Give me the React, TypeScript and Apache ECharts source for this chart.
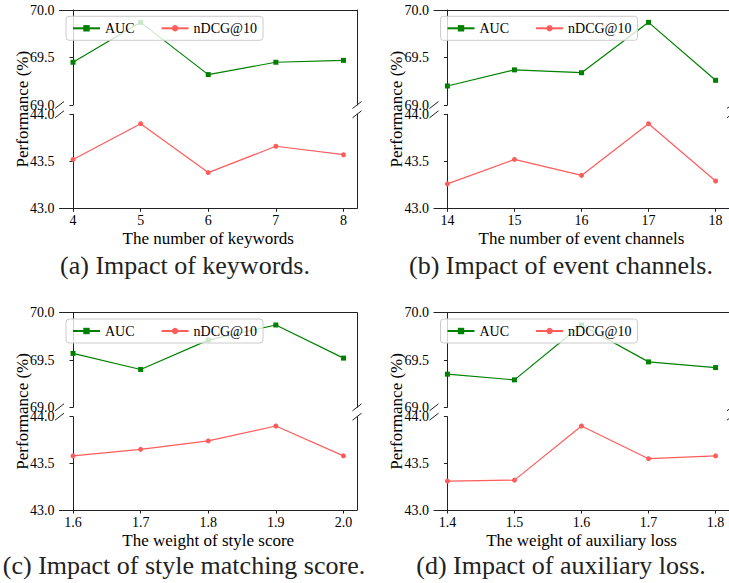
import React, { useEffect, useRef } from "react";
import * as echarts from "echarts";

const FONT = "'Liberation Serif', 'Times New Roman', serif";

const keywordCats = ["4", "5", "6", "7", "8"];
const keywordAUC = [69.45, 69.87, 69.32, 69.45, 69.47];
const keywordNDCG = [43.52, 43.9, 43.38, 43.66, 43.57];

const channelCats = ["14", "15", "16", "17", "18"];
const channelAUC = [69.2, 69.37, 69.34, 69.87, 69.26];
const channelNDCG = [43.26, 43.52, 43.35, 43.9, 43.29];

const styleCats = ["1.6", "1.7", "1.8", "1.9", "2.0"];
const styleAUC = [69.57, 69.4, 69.71, 69.87, 69.52];
const styleNDCG = [43.58, 43.65, 43.74, 43.9, 43.58];

const auxCats = ["1.4", "1.5", "1.6", "1.7", "1.8"];
const auxAUC = [69.35, 69.29, 69.87, 69.48, 69.42];
const auxNDCG = [43.31, 43.32, 43.9, 43.55, 43.58];

const aucRange = [69.0, 70.0];
const ndcgRange = [43.0, 44.0];
const yInterval = 0.5;

const xNames = [
  "The number of keywords",
  "The number of event channels",
  "The weight of style score",
  "The weight of auxiliary loss",
];
const captions = [
  "(a) Impact of keywords.",
  "(b) Impact of event channels.",
  "(c) Impact of style matching score.",
  "(d) Impact of auxiliary loss.",
];
const cats = [keywordCats, channelCats, styleCats, auxCats];
const aucs = [keywordAUC, channelAUC, styleAUC, auxAUC];
const ndcgs = [keywordNDCG, channelNDCG, styleNDCG, auxNDCG];

// layout (pixels)
const layout = [
  { left: 59.5, tTop: 10, tH: 95, bTop: 114.3, bH: 94, capX: 185, capY: 265 },
  { left: 434, tTop: 10, tH: 95, bTop: 114.3, bH: 94, capX: 561, capY: 265 },
  { left: 59.5, tTop: 312.7, tH: 94.6, bTop: 416.7, bH: 93.3, capX: 184, capY: 565 },
  { left: 434, tTop: 312.7, tH: 94.6, bTop: 416.7, bH: 93.3, capX: 561, capY: 565 },
];
const W = 297.5;

const GREEN = "#008000";
const RED = "#ff5c5c";
const AXIS = "#222";

export default function App() {
  const ref = useRef<HTMLDivElement>(null);
  useEffect(() => {
    if (!ref.current) return;
    const chart = echarts.init(ref.current, null, { renderer: "svg" });
    const grid: any[] = [];
    const xAxis: any[] = [];
    const yAxis: any[] = [];
    const series: any[] = [];
    const legend: any[] = [];
    const graphic: any[] = [];
    const idx = [0, 1, 2, 3, 4];

    layout.forEach((p, k) => {
      grid.push({ left: p.left, top: p.tTop, width: W, height: p.tH });
      grid.push({ left: p.left, top: p.bTop, width: W, height: p.bH });
      const c = cats[k];
      xAxis.push({
        gridIndex: 2 * k,
        type: "value",
        min: -0.2,
        max: 4.2,
        position: "top",
        axisLine: { show: true, onZero: false, lineStyle: { color: AXIS, width: 1 } },
        axisTick: { show: false },
        axisLabel: { show: false },
        splitLine: { show: false },
      });
      xAxis.push({
        gridIndex: 2 * k + 1,
        type: "value",
        min: -0.2,
        max: 4.2,
        position: "bottom",
        axisLine: { show: true, onZero: false, lineStyle: { color: AXIS, width: 1 } },
        axisTick: { show: true, length: 3.5, customValues: idx, lineStyle: { color: AXIS } },
        axisLabel: {
          customValues: idx,
          formatter: (v: number) => c[Math.round(v)],
          fontFamily: FONT,
          fontSize: 14,
          color: "#000",
          margin: 5,
        },
        splitLine: { show: false },
        name: xNames[k],
        nameLocation: "middle",
        nameGap: 22,
        nameMoveOverlap: false,
        nameTextStyle: { fontFamily: FONT, fontSize: 17, color: "#000" },
      });
      const mkLeft = (grid: number, r: number[]) => ({
        gridIndex: grid,
        type: "value",
        min: r[0],
        max: r[1],
        interval: yInterval,
        position: "left",
        axisLine: { show: true, lineStyle: { color: AXIS, width: 1 } },
        axisTick: { show: true, length: 3.5, lineStyle: { color: AXIS } },
        axisLabel: {
          formatter: (v: number) => v.toFixed(1),
          fontFamily: FONT,
          fontSize: 14,
          color: "#000",
          margin: 5,
        },
        splitLine: { show: false },
      });
      const mkRight = (grid: number, r: number[]) => ({
        gridIndex: grid,
        type: "value",
        min: r[0],
        max: r[1],
        interval: yInterval,
        position: "right",
        axisLine: { show: true, lineStyle: { color: AXIS, width: 1 } },
        axisTick: { show: false },
        axisLabel: { show: false },
        splitLine: { show: false },
      });
      yAxis.push(mkLeft(2 * k, aucRange));
      yAxis.push(mkRight(2 * k, aucRange));
      yAxis.push(mkLeft(2 * k + 1, ndcgRange));
      yAxis.push(mkRight(2 * k + 1, ndcgRange));

      series.push({
        name: "AUC",
        type: "line",
        xAxisIndex: 2 * k,
        yAxisIndex: 4 * k,
        data: aucs[k].map((v, i) => [i, v]),
        symbol: "rect",
        symbolSize: 5,
        itemStyle: { color: GREEN },
        lineStyle: { color: GREEN, width: 1.2 },
        z: 2,
      });
      series.push({
        name: "nDCG@10",
        type: "line",
        xAxisIndex: 2 * k + 1,
        yAxisIndex: 4 * k + 2,
        data: ndcgs[k].map((v, i) => [i, v]),
        symbol: "circle",
        symbolSize: 5,
        itemStyle: { color: RED },
        lineStyle: { color: RED, width: 1.2 },
        z: 2,
      });
      legend.push({
        data: ["AUC", "nDCG@10"],
        left: p.left + 6.5,
        top: p.tTop + 6.3,
        orient: "horizontal",
        padding: [5, 6],
        itemWidth: 27,
        itemHeight: 8,
        itemGap: 26,
        backgroundColor: "rgba(255,255,255,0.8)",
        borderColor: "#cccccc",
        borderWidth: 1,
        borderRadius: 3,
        textStyle: { fontFamily: FONT, fontSize: 14, color: "#000" },
        selectedMode: false,
      });

      // broken axis marks
      const yA = p.tTop + p.tH;
      const yB = p.bTop;
      [p.left, p.left + W].forEach((x) => {
        [yA, yB].forEach((y) => {
          graphic.push({
            type: "line",
            shape: { x1: x - 4.5, y1: y + 3.5, x2: x + 4.5, y2: y - 3.5 },
            style: { stroke: AXIS, lineWidth: 1 },
            z: 100,
          });
        });
      });
      graphic.push({
        type: "text",
        x: p.left - 37.5,
        y: (p.tTop + p.bTop + p.bH) / 2,
        rotation: Math.PI / 2,
        style: {
          text: "Performance (%)",
          fontFamily: FONT,
          fontSize: 17,
          fill: "#000",
          textAlign: "center",
          textVerticalAlign: "middle",
        },
      });
      graphic.push({
        type: "text",
        x: p.capX,
        y: p.capY,
        style: {
          text: captions[k],
          fontFamily: FONT,
          fontSize: 26,
          fill: "#222",
          textAlign: "center",
          textVerticalAlign: "middle",
        },
      });
    });

    chart.setOption({
      animation: false,
      backgroundColor: "#fff",
      grid,
      xAxis,
      yAxis,
      series,
      legend,
      graphic,
    });
    return () => chart.dispose();
  }, []);
  return (
    <div
      ref={ref}
      style={{ position: "fixed", left: 0, top: 0, width: 729, height: 583 }}
    />
  );
}
